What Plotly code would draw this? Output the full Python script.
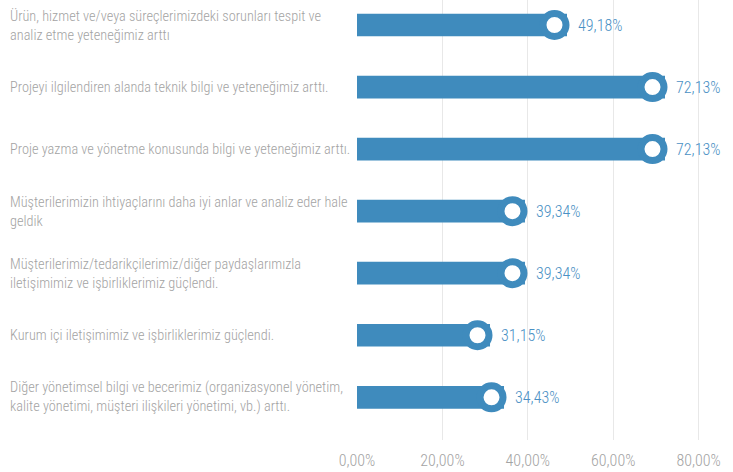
import plotly.graph_objects as go

categories = [
    "Ürün, hizmet ve/veya süreçlerimizdeki sorunları tespit ve<br>analiz etme yeteneğimiz arttı",
    "Projeyi ilgilendiren alanda teknik bilgi ve yeteneğimiz arttı.",
    "Proje yazma ve yönetme konusunda bilgi ve yeteneğimiz arttı.",
    "Müşterilerimizin ihtiyaçlarını daha iyi anlar ve analiz eder hale<br>geldik",
    "Müşterilerimiz/tedarikçilerimiz/diğer paydaşlarımızla<br>iletişimimiz ve işbirliklerimiz güçlendi.",
    "Kurum içi iletişimimiz ve işbirliklerimiz güçlendi.",
    "Diğer yönetimsel bilgi ve becerimiz (organizasyonel yönetim,<br>kalite yönetimi, müşteri ilişkileri yönetimi, vb.) arttı.",
]
values = [49.18, 72.13, 72.13, 39.34, 39.34, 31.15, 34.43]
value_labels = ["49,18%", "72,13%", "72,13%", "39,34%", "39,34%", "31,15%", "34,43%"]
tick_vals = [0, 20, 40, 60, 80]
tick_labels = ["0,00%", "20,00%", "40,00%", "60,00%", "80,00%"]

FONT = "Roboto Condensed, DejaVu Sans Condensed, sans-serif"
BLUE = "#3f8bbd"
TEXT_BLUE = "#4a90c4"
GRAY = "#a3a3a3"

pos = list(range(len(categories)))
px_per_unit = 4.27
circle_offset = 12.5 / px_per_unit

fig = go.Figure()
fig.add_trace(go.Bar(
    x=values, y=pos, orientation="h", width=0.366,
    marker=dict(color=BLUE, line=dict(width=0)), hoverinfo="skip",
))
fig.add_trace(go.Scatter(
    x=[v - circle_offset for v in values], y=pos, mode="markers",
    marker=dict(size=23, color="white", line=dict(color=BLUE, width=7)),
    hoverinfo="skip",
))

for i, (c, v, lab) in enumerate(zip(categories, values, value_labels)):
    fig.add_annotation(
        x=0, xref="paper", xshift=-349, y=i, yref="y", text=c,
        showarrow=False, xanchor="left", yanchor="middle", align="left",
        font=dict(family=FONT, size=14.3, color=GRAY, weight=300),
    )
    fig.add_annotation(
        x=v, xref="x", y=i, yref="y", text=lab, xshift=9,
        showarrow=False, xanchor="left", yanchor="middle",
        font=dict(family=FONT, size=16, color=TEXT_BLUE, weight=300),
    )

fig.update_layout(
    template="none",
    width=733, height=472,
    margin=dict(l=357, r=10, t=0, b=32, autoexpand=False),
    plot_bgcolor="white", paper_bgcolor="white",
    showlegend=False,
    xaxis=dict(
        range=[0, 366 / px_per_unit], tickvals=tick_vals, ticktext=tick_labels,
        showgrid=True, gridcolor="#e8e8e8", gridwidth=1.2, zeroline=False,
        showline=False, ticks="outside", ticklen=6, tickcolor="rgba(0,0,0,0)",
        tickfont=dict(family=FONT, size=16, color=GRAY, weight=300), fixedrange=True,
        automargin=False,
    ),
    yaxis=dict(
        range=[6.688, -0.403], showticklabels=False, showgrid=False,
        zeroline=False, showline=False, fixedrange=True, automargin=False,
    ),
)

fig.write_html("out.html", config={"displayModeBar": False},
               post_script="document.body.style.margin='0px';")
